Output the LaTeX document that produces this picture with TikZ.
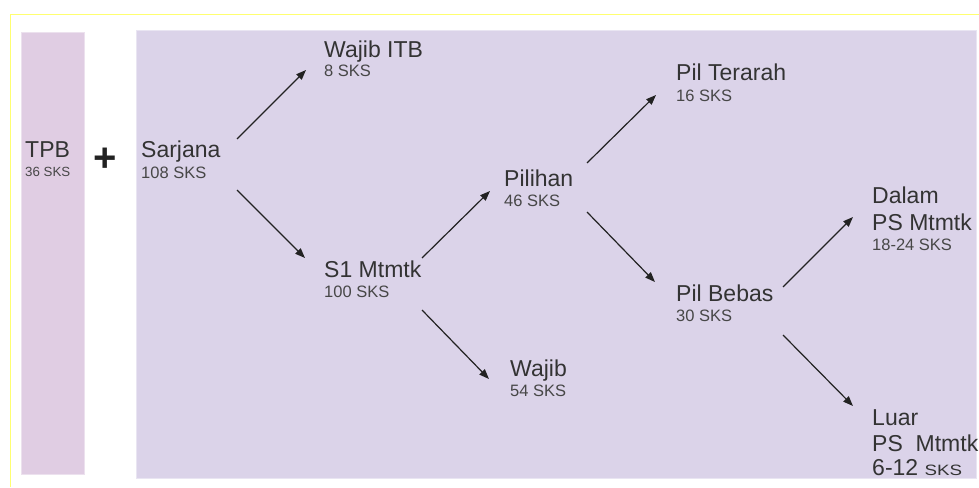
\documentclass[tikz,border=0pt]{standalone}
\usepackage{fontspec}
\setmainfont{Liberation Sans}
\usetikzlibrary{arrows.meta}
\definecolor{txt}{HTML}{333333}
\definecolor{arrc}{HTML}{222222}
\definecolor{tpbfill}{HTML}{E0CDE3}
\definecolor{mainfill}{HTML}{DBD3E9}
\definecolor{frameyel}{HTML}{FFFF70}
\tikzset{
  ttl/.style={anchor=base west, inner sep=0pt, text=txt, font=\fontsize{23}{27}\selectfont},
  sks/.style={anchor=base west, inner sep=0pt, text=txt!90!white, font=\fontsize{16.5}{20}\selectfont},
  smallsks/.style={anchor=base west, inner sep=0pt, text=txt!90!white, font=\fontsize{13.3}{16}\selectfont},
  arr/.style={draw=arrc, line width=1.2pt, -{Triangle[length=10pt,width=7.5pt]}},
}
\begin{document}
\begin{tikzpicture}[x=1pt,y=-1pt]
\useasboundingbox (0,0) rectangle (979,487);
% yellow frame
\draw[frameyel, line width=1pt] (10,487) -- (10,15) -- (979,15);
% panels
\filldraw[fill=tpbfill, draw=tpbfill!60!white, line width=0.8pt] (21,32) rectangle (84,474);
\filldraw[fill=mainfill, draw=mainfill!60!white, line width=0.8pt] (136,30) rectangle (976,478);

% TPB
\node[ttl] (tpb) at (25,157) {TPB};
\node[smallsks] (tpbS) at (25,176) {36 SKS};
\node[anchor=base west, inner sep=0pt, text=arrc, font=\fontsize{40}{44}\selectfont\bfseries] (plus) at (93,171.5) {+};

% nodes
\node[ttl] (sarjana) at (141,157) {Sarjana};
\node[sks] (sarjanaS) at (141,178) {108 SKS};
\node[ttl] (wajibitb) at (324,57) {Wajib ITB};
\node[sks] (wajibitbS) at (324,77) {8 SKS};
\node[ttl] (s1) at (324,277) {S1 Mtmtk};
\node[sks] (s1S) at (324,297) {100 SKS};
\node[ttl] (pilihan) at (504,186) {Pilihan};
\node[sks] (pilihanS) at (504,206) {46 SKS};
\node[ttl] (wajib) at (510,376) {Wajib};
\node[sks] (wajibS) at (510,396) {54 SKS};
\node[ttl] (terarah) at (676,81) {Pil Terarah};
\node[sks] (terarahS) at (676,101) {16 SKS};
\node[ttl] (bebas) at (676,301) {Pil Bebas};
\node[sks] (bebasS) at (676,321) {30 SKS};
\node[ttl] (dalam) at (872,203) {Dalam};
\node[ttl] (dalamPS) at (872,230) {PS Mtmtk};
\node[sks] (dalamS) at (872,250) {18-24 SKS};
\node[ttl] (luar) at (872,425) {Luar};
\node[ttl] (luarPS) at (872,451) {PS\ \ Mtmtk};
\node[ttl] (luarS) at (872,475) {6-12 \scalebox{1.25}[1]{\fontsize{15}{18}\selectfont SKS}};

% connector endpoints
\coordinate (sarjanaUp) at (237,139);
\coordinate (sarjanaDn) at (237,190);
\coordinate (wajibitbIn) at (306,70);
\coordinate (s1In) at (305,258);
\coordinate (s1Up) at (422,258);
\coordinate (s1Dn) at (422,310);
\coordinate (pilihanIn) at (490,191);
\coordinate (wajibIn) at (489,379);
\coordinate (pilihanUp) at (587,163);
\coordinate (pilihanDn) at (587,212);
\coordinate (terarahIn) at (656,95);
\coordinate (bebasIn) at (655,282);
\coordinate (bebasUp) at (783,287);
\coordinate (bebasDn) at (783,335);
\coordinate (dalamIn) at (853,217);
\coordinate (luarIn) at (853,406);

\draw[arr] (sarjanaUp) -- (wajibitbIn);
\draw[arr] (sarjanaDn) -- (s1In);
\draw[arr] (s1Up) -- (pilihanIn);
\draw[arr] (s1Dn) -- (wajibIn);
\draw[arr] (pilihanUp) -- (terarahIn);
\draw[arr] (pilihanDn) -- (bebasIn);
\draw[arr] (bebasUp) -- (dalamIn);
\draw[arr] (bebasDn) -- (luarIn);
\end{tikzpicture}
\end{document}
